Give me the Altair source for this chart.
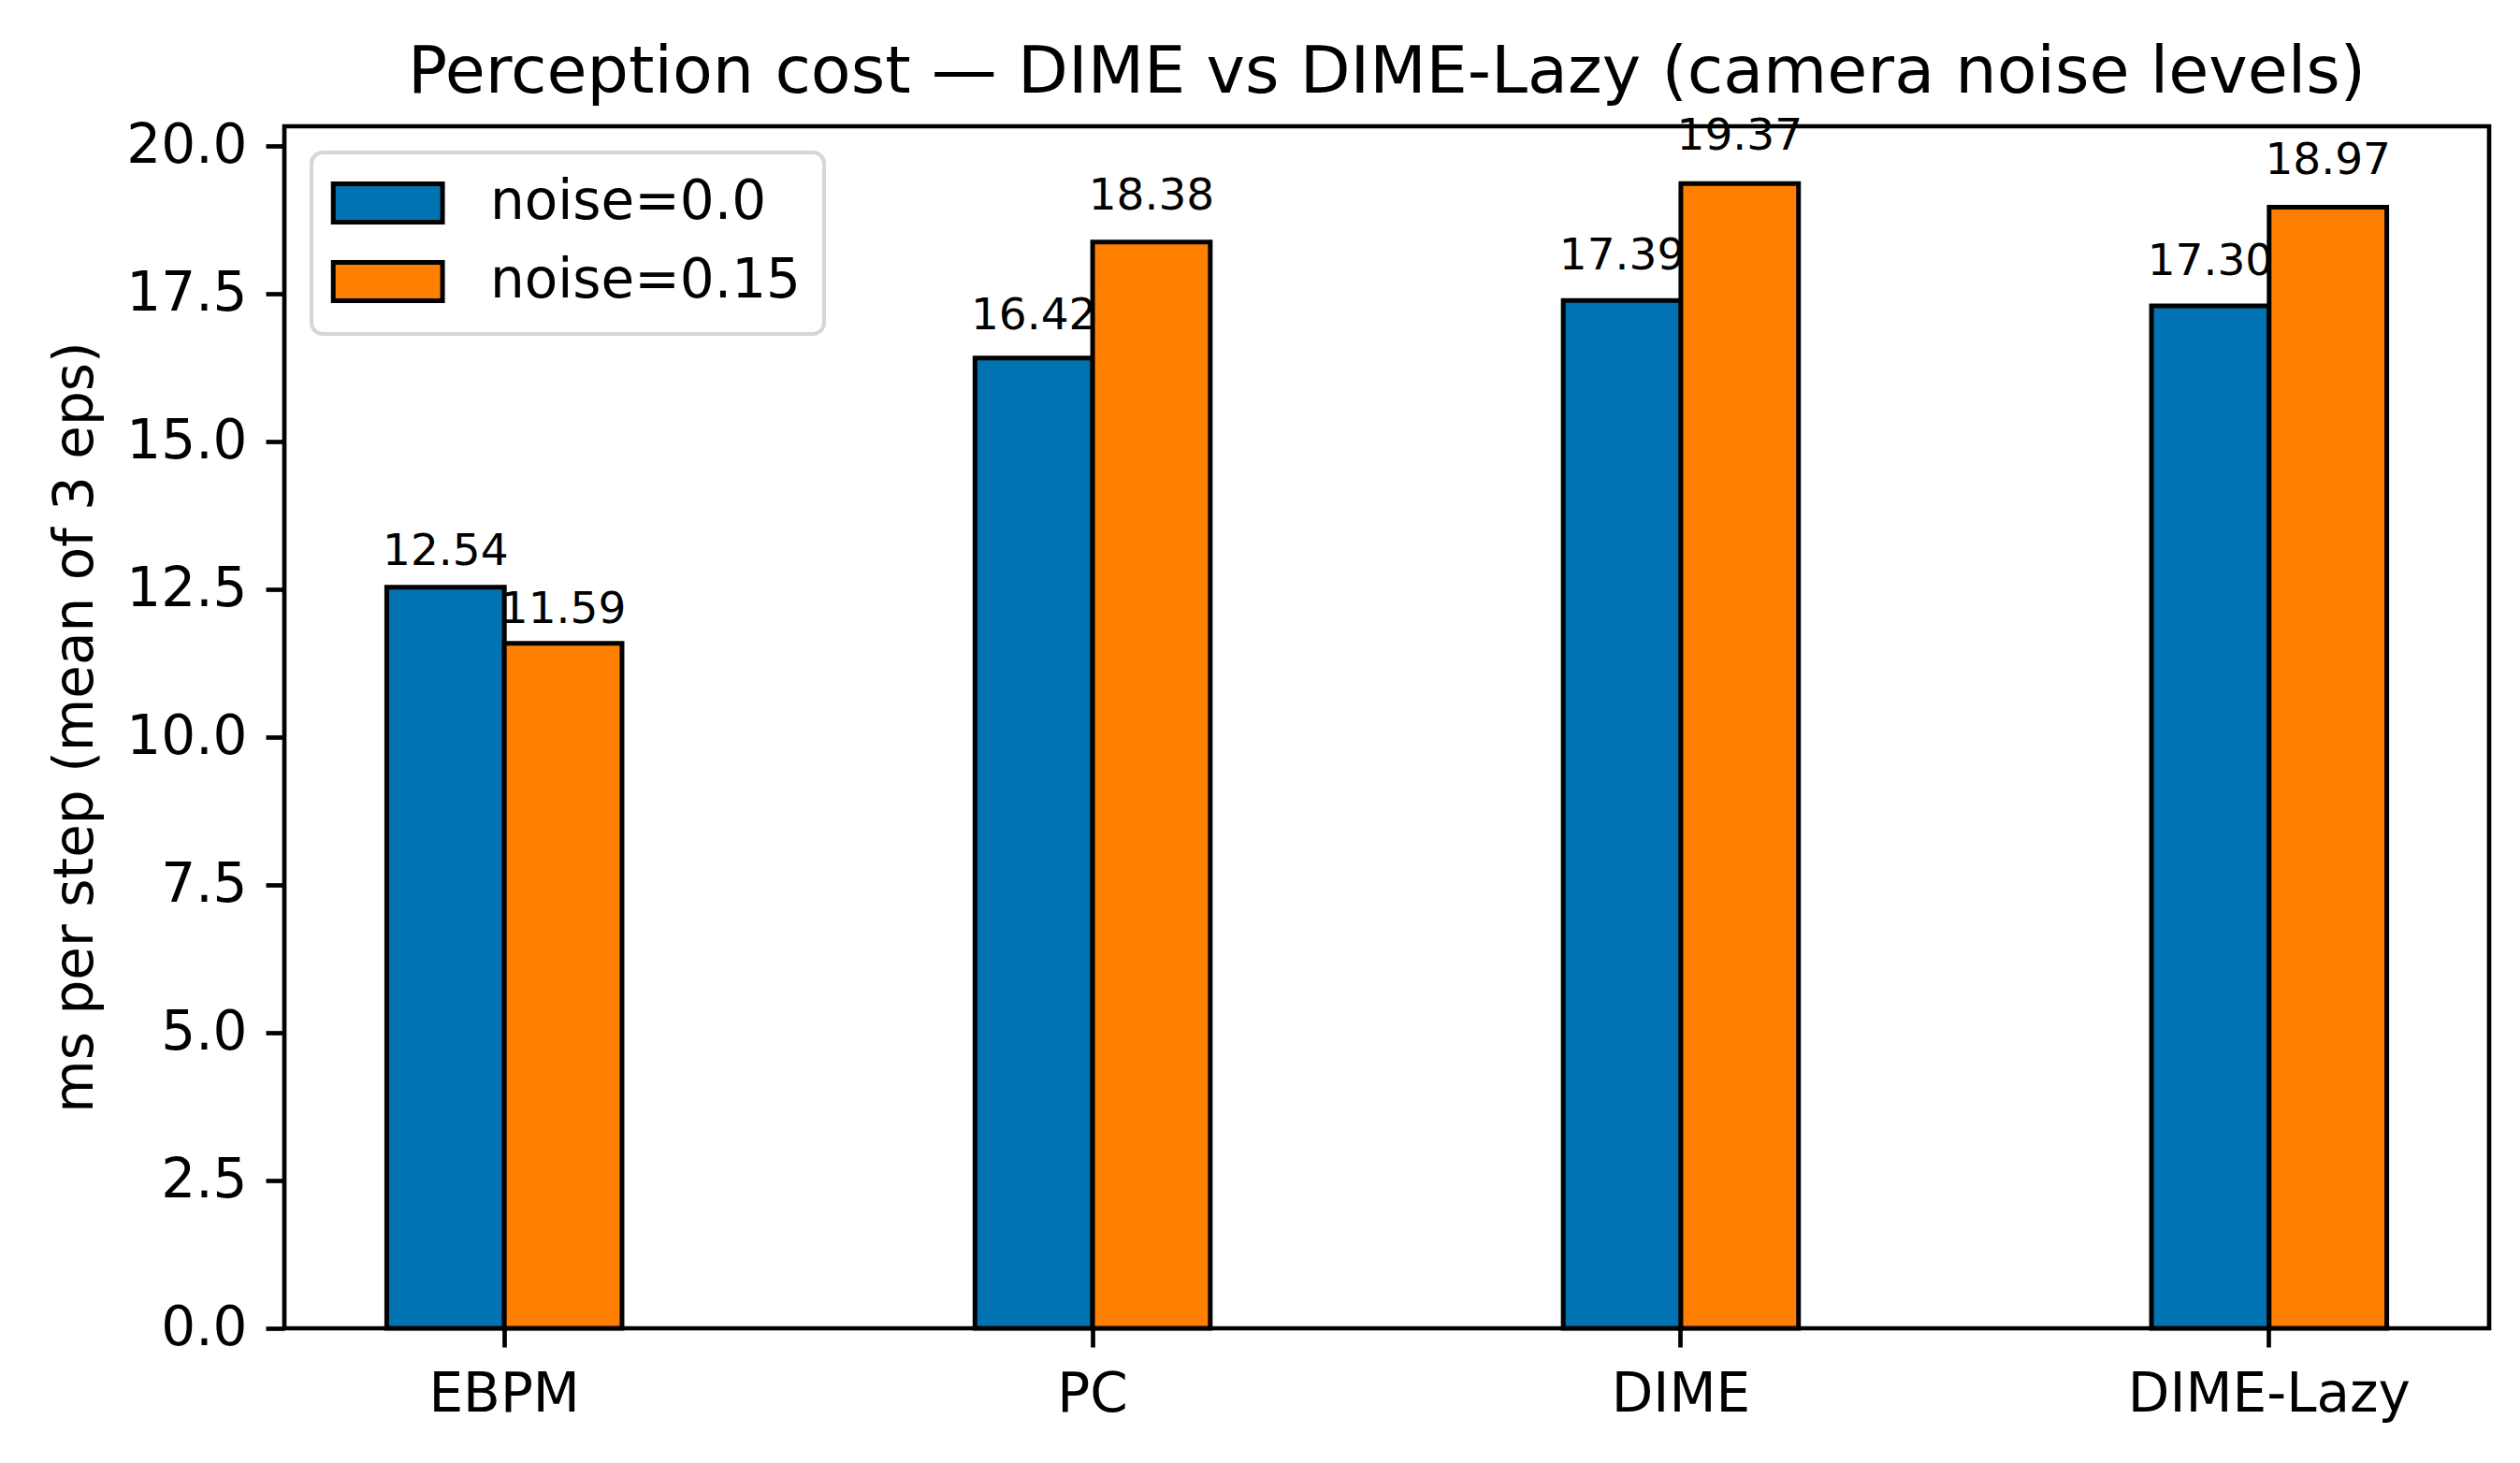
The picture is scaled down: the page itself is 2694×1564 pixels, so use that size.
import altair as alt
import pandas as pd

# values
methods = ["EBPM", "PC", "DIME", "DIME-Lazy"]
noise_levels = ["noise=0.0", "noise=0.15"]
ms_noise_0 = [12.54, 16.42, 17.39, 17.30]
ms_noise_015 = [11.59, 18.38, 19.37, 18.97]
y_ticks = [0, 2.5, 5, 7.5, 10, 12.5, 15, 17.5, 20]
bar_colors = ["#0173b2", "#ff8000"]

rows = []
for level, values in zip(noise_levels, [ms_noise_0, ms_noise_015]):
    for m, v in zip(methods, values):
        rows.append({"method": m, "noise": level, "ms": v})
data = pd.DataFrame(rows)

FONT = "DejaVu Sans"
base = alt.Chart(data)

x = alt.X("method:N", sort=methods, title=None,
          scale=alt.Scale(paddingInner=0.6, paddingOuter=0.174),
          axis=alt.Axis(labelAngle=0, labelPadding=22, labelLimit=1000, domain=False))
x_off = alt.XOffset("noise:N", sort=noise_levels,
                    scale=alt.Scale(domain=noise_levels, paddingInner=0, paddingOuter=0))
y_scale = alt.Scale(domain=[0, 20.34], nice=False)
y = alt.Y("ms:Q", scale=y_scale,
          axis=alt.Axis(values=y_ticks, format=".1f", labelPadding=20, domain=False,
                        title="ms per step (mean of 3 eps)",
                        titleX=-223, titleY=642, titleAngle=270,
                        titleAlign="center", titleBaseline="middle"))
color = alt.Color("noise:N",
                  scale=alt.Scale(domain=noise_levels, range=bar_colors),
                  legend=alt.Legend(title=None, orient="none", legendX=29, legendY=28))


def bars(level):
    return base.transform_filter(alt.datum.noise == level).mark_bar(
        stroke="black", strokeWidth=5
    ).encode(x=x, xOffset=x_off, y=y, color=color)


def labels(level):
    # labels sit at 1.03 x the bar value, like the original
    return base.transform_filter(alt.datum.noise == level).transform_calculate(
        label_y="datum.ms * 1.03"
    ).mark_text(
        font=FONT, fontSize=47, baseline="alphabetic", color="black"
    ).encode(x=x, xOffset=x_off, y=alt.Y("label_y:Q", scale=y_scale),
             text=alt.Text("ms:Q", format=".2f"))


# same drawing order as the original: bars, their labels, next bars, their labels
chart = alt.layer(
    bars(noise_levels[0]), labels(noise_levels[0]),
    bars(noise_levels[1]), labels(noise_levels[1]),
).properties(
    width=2357,
    height=1285,
    autosize=alt.AutoSizeParams(type="none"),
    padding={"left": 296, "top": 127, "right": 20, "bottom": 130},
    title=alt.TitleParams(
        "Perception cost \u2014 DIME vs DIME-Lazy (camera noise levels)",
        font=FONT, fontSize=70, fontWeight="normal", color="black",
        anchor="middle", frame="group", baseline="alphabetic", offset=30, dy=77,
    ),
).configure_axis(
    grid=False,
    labelFont=FONT, labelFontSize=58, labelColor="black",
    titleFont=FONT, titleFontSize=58, titleFontWeight="normal", titleColor="black",
    tickColor="black", tickWidth=4.7, tickSize=20,
).configure_view(
    stroke="black", strokeWidth=4.7
).configure_legend(
    labelFont=FONT, labelFontSize=58, labelColor="black", labelLimit=1000,
    labelOffset=108, rowPadding=22, padding=25,
    symbolType="M-1.5,-1L4.2,-1L4.2,1L-1.5,1Z", symbolSize=1681,
    symbolStrokeColor="black", symbolStrokeWidth=5, symbolOpacity=1,
    fillColor="white", strokeColor="#d6d6d6", strokeWidth=4, cornerRadius=12,
)

chart.save("out.html", embed_options={"renderer": "svg", "actions": False})
